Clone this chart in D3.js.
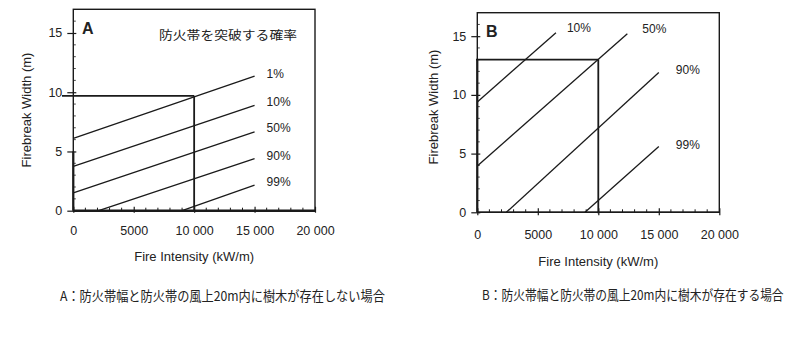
<!DOCTYPE html>
<html><head><meta charset="utf-8">
<script src="https://cdn.jsdelivr.net/npm/d3@7"></script>
<style>
body{margin:0;background:#fff;}
svg{display:block;}
text{font-family:"Liberation Sans",Arial,sans-serif;fill:#222;}
.jp{font-family:"Noto Sans CJK JP",sans-serif;}
</style></head>
<body>
<svg id="c" width="795" height="338"></svg>
<script>
// ---- data ----
const xTicks = [0, 5000, 10000, 15000, 20000];
const xTickLabels = ["0", "5000", "10 000", "15 000", "20 000"];
const yTicks = [0, 5, 10, 15];
const yTickLabels = ["0", "5", "10", "15"];

const probLabelsA = ["1%", "10%", "50%", "90%", "99%"];
const startXA = [0, 0, 0, 2100, 9000];
const startYA = [6.1, 3.75, 1.5, 0, 0];
const endXA = [15000, 15000, 15000, 15000, 15000];
const endYA = [11.35, 8.9, 6.65, 4.4, 2.15];
const refA = [10000, 9.7];

const probLabelsB = ["10%", "50%", "90%", "99%"];
const startXB = [0, 0, 2400, 8900];
const startYB = [9.4, 3.95, 0, 0];
const endXB = [6500, 12400, 15000, 15000];
const endYB = [15.3, 15.2, 11.9, 5.6];
const refB = [10000, 13];

const titleA = "防火帯を突破する確率";
const captionA = "A：防火帯幅と防火帯の風上20m内に樹木が存在しない場合";
const captionB = "B：防火帯幅と防火帯の風上20m内に樹木が存在する場合";

const svg = d3.select("#c");
const ink = "#1a1a1a";
const sansFont = '"Liberation Sans",Arial,sans-serif';

function panel(cfg) {
  const x = d3.scaleLinear().domain([0, 20000]).range([cfg.l, cfg.r]);
  const y = d3.scaleLinear().domain([0, 17]).range([cfg.b, cfg.t]);
  const g = svg.append("g");
  // minor ticks inside
  const minorX = d3.range(0, 20001, 1000).filter(d => d % 5000 !== 0);
  g.selectAll(".mx").data(minorX).join("line")
    .attr("x1", d => x(d)).attr("x2", d => x(d))
    .attr("y1", y(0)).attr("y2", y(0) - 3)
    .attr("stroke", ink).attr("stroke-width", 1);
  const minorY = d3.range(1, 17, 1).filter(d => d % 5 !== 0);
  g.selectAll(".my").data(minorY).join("line")
    .attr("y1", d => y(d)).attr("y2", d => y(d))
    .attr("x1", x(0)).attr("x2", x(0) + 2.5)
    .attr("stroke", ink).attr("stroke-width", 0.8);
  // frame
  g.append("rect").attr("x", cfg.l).attr("y", cfg.t)
    .attr("width", cfg.r - cfg.l).attr("height", cfg.b - cfg.t)
    .attr("fill", "none").attr("stroke", ink).attr("stroke-width", 1.4);
  g.append("line").attr("x1", cfg.l).attr("x2", cfg.r).attr("y1", cfg.b).attr("y2", cfg.b)
    .attr("stroke", ink).attr("stroke-width", cfg.bw);
  g.append("line").attr("x1", cfg.l).attr("x2", cfg.l).attr("y1", cfg.b).attr("y2", y(cfg.thickTo))
    .attr("stroke", ink).attr("stroke-width", 2.2);
  // axes (major ticks cross the axis line)
  const xa = g.append("g").attr("transform", `translate(0,${cfg.b})`)
    .call(d3.axisBottom(x).tickValues(xTicks).tickFormat((d, i) => xTickLabels[i]).tickSize(cfg.xts).tickPadding(cfg.xpad));
  xa.select(".domain").remove();
  xa.selectAll("line").attr("y1", -4).attr("stroke", ink).attr("stroke-width", 1.2);
  xa.selectAll("text").attr("font-size", 12.5).style("font-family", sansFont).attr("fill", ink);
  const ya = g.append("g").attr("transform", `translate(${cfg.l},0)`)
    .call(d3.axisLeft(y).tickValues(yTicks).tickFormat((d, i) => yTickLabels[i]).tickSize(6).tickPadding(5));
  ya.select(".domain").remove();
  ya.selectAll("line").attr("x1", 3).attr("stroke", ink).attr("stroke-width", 1.2);
  ya.selectAll("text").attr("font-size", 12.5).style("font-family", sansFont).attr("fill", ink);
  // titles
  g.append("text").attr("x", (cfg.l + cfg.r) / 2).attr("y", cfg.xtY)
    .attr("text-anchor", "middle").attr("font-size", 13).text("Fire Intensity (kW/m)");
  g.append("text").attr("transform", `translate(${cfg.ytX},${cfg.ytY}) rotate(-90)`)
    .attr("text-anchor", "middle").attr("font-size", 13).text("Firebreak Width (m)");
  g.append("text").attr("x", cfg.letterX).attr("y", cfg.letterY)
    .attr("font-size", 16).attr("font-weight", "bold").text(cfg.letter);
  // lines
  const idx = d3.range(cfg.labels.length);
  g.selectAll(".ln").data(idx).join("line")
    .attr("x1", i => x(cfg.sx[i])).attr("y1", i => y(cfg.sy[i]))
    .attr("x2", i => x(cfg.ex[i])).attr("y2", i => y(cfg.ey[i]))
    .attr("stroke", ink).attr("stroke-width", 1.3);
  g.selectAll(".lb").data(idx).join("text")
    .attr("x", i => x(cfg.ex[i]) + cfg.ldx[i]).attr("y", i => y(cfg.ey[i]) + cfg.ldy[i])
    .attr("dominant-baseline", "middle").attr("font-size", 12).text(i => cfg.labels[i]);
  // reference lines
  g.append("line").attr("x1", cfg.refStart).attr("x2", x(cfg.ref[0]))
    .attr("y1", y(cfg.ref[1])).attr("y2", y(cfg.ref[1]))
    .attr("stroke", ink).attr("stroke-width", 1.8);
  g.append("line").attr("x1", x(cfg.ref[0])).attr("x2", x(cfg.ref[0]))
    .attr("y1", y(cfg.ref[1])).attr("y2", y(0) + 1)
    .attr("stroke", ink).attr("stroke-width", 1.8);
  return {x, y, g};
}

const pA = panel({
  l: 73.3, r: 315, t: 9.3, b: 210.7, xpad: 13, xts: 2, bw: 2.4, thickTo: 5, xtY: 261, ytX: 31, ytY: 110,
  letter: "A", letterX: 82, letterY: 34,
  labels: probLabelsA, sx: startXA, sy: startYA, ex: endXA, ey: endYA,
  ldx: [12, 12, 12, 12, 12], ldy: [-1, -2, -3, -2, -2],
  ref: refA, refStart: 62
});
pA.g.append("text").attr("class", "jp").attr("x", 159).attr("y", 40)
  .attr("font-size", 12.5).attr("textLength", 138).attr("lengthAdjust", "spacingAndGlyphs")
  .text(titleA);

const pB = panel({
  l: 477.3, r: 719.3, t: 12.7, b: 212.3, xpad: 15, xts: 3, bw: 1.6, thickTo: 13, xtY: 266, ytX: 438, ytY: 107,
  letter: "B", letterX: 486, letterY: 37,
  labels: probLabelsB, sx: startXB, sy: startYB, ex: endXB, ey: endYB,
  ldx: [11, 15, 17, 17], ldy: [-4, -4, -2, -1],
  ref: refB, refStart: 476
});

// captions: horizontally condensed via a scale transform to the reference width
function caption(txt, x0, y0, targetW) {
  const t = svg.append("text").attr("class", "jp").attr("font-size", 13.5).text(txt);
  const w = t.node().getComputedTextLength();
  const s = Math.min(1, targetW / w);
  t.attr("transform", `translate(${x0},${y0}) scale(${s},1)`);
}
caption(captionA, 60, 301, 325);
caption(captionB, 482, 300, 302);
</script>
</body></html>
